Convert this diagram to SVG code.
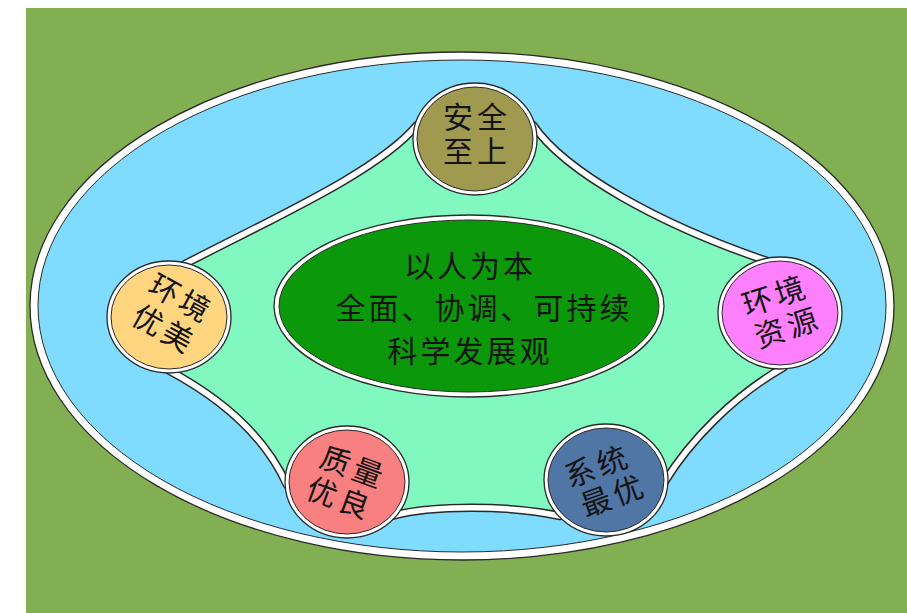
<svg xmlns="http://www.w3.org/2000/svg" width="907" height="613" viewBox="0 0 907 613">
<style>
.ring{fill:#ffffff;stroke:#2a2a2a;stroke-width:1.3}
.in{stroke:#2a2a2a;stroke-width:1}
text{font-family:"Liberation Sans","Noto Sans CJK SC","Noto Sans CJK JP",sans-serif;fill:#141414;text-anchor:middle}
.c{font-size:30px;letter-spacing:4px}
.m{font-size:30px;letter-spacing:3px}
</style>
<defs>
<path id="starPath" d="M 475 139 L 533 125 C 565 172, 660 225, 770 262 L 780 313 L 784 367 C 735 395, 690 440, 664 483 L 606 480 L 560 516 C 510 505, 430 505, 392 516 L 347 482 L 287 485 C 262 430, 215 395, 168 370 L 169 317 L 185 264 C 280 215, 380 170, 417 125 Z"/>
</defs>
<rect x="0" y="0" width="907" height="613" fill="#ffffff"/>
<rect x="26" y="8" width="881" height="605" fill="#81AF51"/>
<g id="outer">
<ellipse cx="462" cy="306" rx="432" ry="254" class="ring"/>
<ellipse cx="462" cy="306" rx="424" ry="246" fill="#80DCFF" class="in"/>
</g>
<g id="connectors">
<use href="#starPath" fill="#80F8C0" stroke="#2a2a2a" stroke-width="8.5" stroke-linejoin="round"/>
<use href="#starPath" fill="none" stroke="#ffffff" stroke-width="5.5" stroke-linejoin="round"/>
</g>
<g id="center">
<ellipse cx="469" cy="306" rx="195" ry="91" class="ring"/>
<ellipse cx="469" cy="306" rx="190" ry="86" fill="#0B990B" class="in"/>
<text class="m"><tspan x="470" y="277">以人为本</tspan><tspan x="484" y="319">全面、协调、可持续</tspan><tspan x="470" y="362">科学发展观</tspan></text>
</g>
<g id="safety">
<ellipse cx="475" cy="139" rx="62" ry="56" class="ring"/>
<ellipse cx="475" cy="139" rx="58" ry="52" fill="#A09A50" class="in"/>
<text class="c"><tspan x="477" y="128">安全</tspan><tspan x="477" y="162">至上</tspan></text>
</g>
<g id="env-beauty">
<ellipse cx="169" cy="317" rx="62" ry="56" class="ring"/>
<ellipse cx="169" cy="317" rx="58" ry="52" fill="#FFD580" class="in"/>
<g transform="translate(169,317) rotate(29)">
<text class="c"><tspan x="2" y="-11">环境</tspan><tspan x="2" y="24">优美</tspan></text>
</g>
</g>
<g id="env-resource">
<ellipse cx="780" cy="313" rx="62" ry="56" class="ring"/>
<ellipse cx="780" cy="313" rx="58" ry="52" fill="#FF80FF" class="in"/>
<g transform="translate(780,313) rotate(-18)">
<text class="c"><tspan x="1" y="-7">环境</tspan><tspan x="3" y="27">资源</tspan></text>
</g>
</g>
<g id="quality">
<ellipse cx="347" cy="482" rx="62" ry="56" class="ring"/>
<ellipse cx="347" cy="482" rx="58" ry="52" fill="#F88080" class="in"/>
<g transform="translate(347,482) rotate(20)">
<text class="c"><tspan x="1" y="-5">质量</tspan><tspan x="-1" y="29">优良</tspan></text>
</g>
</g>
<g id="system">
<ellipse cx="606" cy="480" rx="62" ry="56" class="ring"/>
<ellipse cx="606" cy="480" rx="58" ry="52" fill="#5076A6" class="in"/>
<g transform="translate(606,480) rotate(-20)">
<text class="c"><tspan x="-3" y="-5">系统</tspan><tspan x="2" y="28">最优</tspan></text>
</g>
</g>
</svg>
